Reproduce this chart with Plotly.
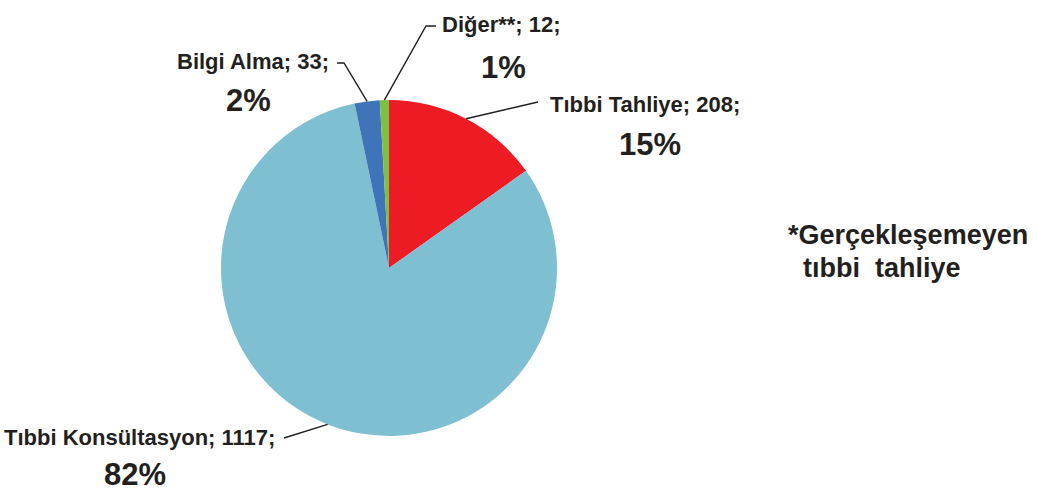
import math
import plotly.graph_objects as go

categories = ["Tıbbi Tahliye", "Tıbbi Konsültasyon", "Bilgi Alma", "Diğer**"]
values = [208, 1117, 33, 12]
percent_labels = ["15%", "82%", "2%", "1%"]
colors = ["#ED1C24", "#7FBFD2", "#3F74B8", "#7CC242"]
footnote = ["*Gerçekleşemeyen", "tıbbi  tahliye"]

W, H = 1037, 492
CX, CY, R = 389, 268, 168  # pie centre/radius in pixels

def px(x):
    return x / W

def py(y):
    return 1 - y / H

fig = go.Figure(go.Pie(
    labels=categories, values=values, sort=False, direction="clockwise",
    rotation=0, textinfo="none", hoverinfo="label+value+percent",
    marker=dict(colors=colors, line=dict(width=0)),
    domain=dict(x=[px(CX - R), px(CX + R)], y=[py(CY + R), py(CY - R)]),
    showlegend=False,
))

FONT = "Liberation Sans, Arial, sans-serif"
TXT = "#231F20"

# label layout: (line1 anchor x, y, xanchor), (pct centre x, y), leader path after edge
label_layout = [
    dict(l1=(548, 104, "left"), pct=(650, 145), path=[(538, 102)]),
    dict(l1=(277, 437, "right"), pct=(135, 474), path=[(284, 438)]),
    dict(l1=(331, 62, "right"), pct=(248, 100), path=[(344, 63), (337, 63)]),
    dict(l1=(440, 25, "left"), pct=(503, 67), path=[(426, 26), (436, 26)]),
]

total = sum(values)
cum = 0
shapes = []
annotations = []
for cat, v, pct, lay in zip(categories, values, percent_labels, label_layout):
    mid = (cum + v / 2) / total * 2 * math.pi
    cum += v
    ex, ey = CX + R * math.sin(mid), CY - R * math.cos(mid)
    pts = [(ex, ey)] + lay["path"]
    d = "M " + " L ".join(f"{px(x):.5f},{py(y):.5f}" for x, y in pts)
    shapes.append(dict(type="path", xref="paper", yref="paper", path=d,
                       line=dict(color="#231F20", width=1.4)))
    x1, y1, xa = lay["l1"]
    annotations.append(dict(x=px(x1), y=py(y1), xref="paper", yref="paper",
                            text=f"<b>{cat}; {v};</b>", showarrow=False,
                            xanchor=xa, yanchor="middle",
                            font=dict(family=FONT, size=22, color=TXT)))
    annotations.append(dict(x=px(lay["pct"][0]), y=py(lay["pct"][1]), xref="paper", yref="paper",
                            text=f"<b>{pct}</b>", showarrow=False,
                            xanchor="center", yanchor="middle",
                            font=dict(family=FONT, size=31, color=TXT)))

annotations.append(dict(x=px(786), y=py(235), xref="paper", yref="paper",
                        text=f"<b>{footnote[0]}</b>", showarrow=False,
                        xanchor="left", yanchor="middle",
                        font=dict(family=FONT, size=27, color=TXT)))
annotations.append(dict(x=px(801), y=py(268), xref="paper", yref="paper",
                        text=f"<b>{footnote[1]}</b>", showarrow=False,
                        xanchor="left", yanchor="middle",
                        font=dict(family=FONT, size=27, color=TXT)))

fig.update_layout(
    width=W, height=H, margin=dict(l=0, r=0, t=0, b=0),
    paper_bgcolor="white", plot_bgcolor="white",
    shapes=shapes, annotations=annotations,
)

fig.write_html("out.html", config={"displayModeBar": False},
               post_script="document.body.style.margin='0';")
